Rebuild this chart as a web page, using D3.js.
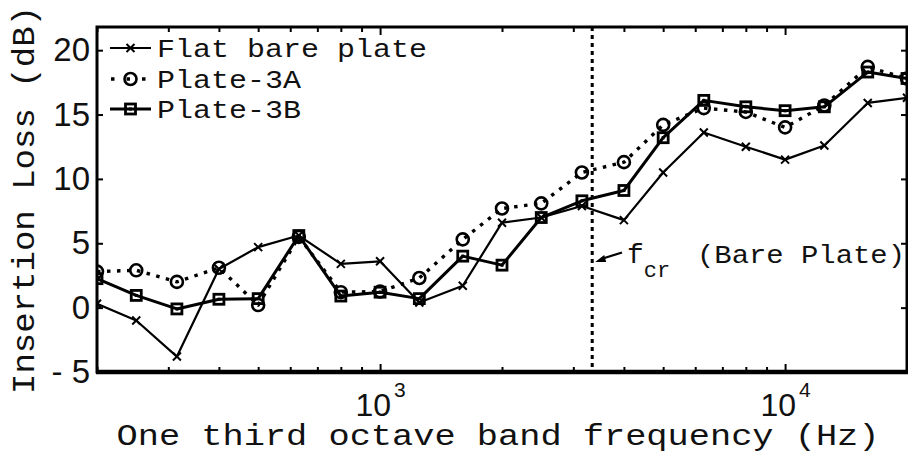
<!DOCTYPE html>
<html>
<head>
<meta charset="utf-8">
<script src="https://cdn.jsdelivr.net/npm/d3@7"></script>
<style>
  html, body { margin: 0; padding: 0; background: #fff; }
  svg { display: block; }
</style>
</head>
<body>
<svg id="chart" width="908" height="454"></svg>
<script>
// One-third octave band centre frequencies (Hz)
const freqs = [200, 250, 315, 400, 500, 630, 800, 1000, 1250, 1600, 2000,
               2500, 3150, 4000, 5000, 6300, 8000, 10000, 12500, 16000, 20000];

// Insertion loss (dB) per band
const flatBare = [0.3, -1.0, -3.8, 3.0, 4.7, 5.6, 3.4, 3.6, 0.4, 1.7, 6.6,
                  7.0, 7.9, 6.8, 10.5, 13.6, 12.5, 11.5, 12.6, 15.9, 16.3];
const plate3A  = [2.8, 2.9, 2.0, 3.1, 0.2, 5.5, 1.2, 1.25, 2.3, 5.3, 7.7,
                  8.1, 10.5, 11.3, 14.2, 15.5, 15.2, 14.0, 15.7, 18.7, 17.8];
const plate3B  = [2.25, 0.95, -0.1, 0.65, 0.7, 5.6, 0.9, 1.2, 0.7, 4.0, 3.3,
                  7.0, 8.3, 9.1, 13.2, 16.1, 15.6, 15.3, 15.6, 18.3, 17.8];

const seriesNames = ["Flat bare plate", "Plate-3A", "Plate-3B"];

// Axis ticks
const yTicks = [-5, 0, 5, 10, 15, 20];
const xMajorTicks = [1000, 10000];
const xMinorTicks = [200, 300, 400, 500, 600, 700, 800, 900,
                     2000, 3000, 4000, 5000, 6000, 7000, 8000, 9000, 20000];

// Critical frequency of the bare plate
const fCritical = 3340;

const monoFont = "'Courier New', 'Nimbus Mono PS', 'Nimbus Mono L', FreeMono, 'Liberation Mono', monospace";
const numFont = "'Liberation Sans', Arial, Helvetica, sans-serif";

const svg = d3.select("#chart");
const L = 97, R = 907, T = 27, B = 372;

const x = d3.scaleLog().domain([200, 20000]).range([L, R]);
const y = d3.scaleLinear().domain([-5, 21.8]).range([B, T]);

svg.append("defs").append("clipPath").attr("id", "plotClip")
  .append("rect").attr("x", L).attr("y", T).attr("width", R - L).attr("height", B - T);

// ---- axes (ticks pointing inward) ----
const sup = d => Math.round(Math.log10(d));

const xBottom = d3.axisBottom(x)
  .tickValues(xMinorTicks.concat(xMajorTicks))
  .tickSizeInner(0).tickSizeOuter(0).tickPadding(21)
  .tickFormat(d => xMajorTicks.includes(d) ? "10" : "");
const gxb = svg.append("g").attr("transform", `translate(0,${B})`).call(xBottom);
gxb.select(".domain").remove();
gxb.selectAll(".tick line")
  .attr("y2", d => xMajorTicks.includes(d) ? -8 : -5)
  .attr("stroke-width", 2);
gxb.selectAll(".tick text")
  .attr("font-family", numFont).attr("font-size", 32).attr("fill", "#111")
  .attr("dy", "0.73em")
  .each(function(d) {
    if (xMajorTicks.includes(d)) {
      d3.select(this).append("tspan")
        .attr("dx", 3).attr("dy", -19).attr("font-size", 21)
        .text(sup(d));
    }
  });

const gxt = svg.append("g").attr("transform", `translate(0,${T})`)
  .call(d3.axisTop(x).tickValues(xMinorTicks.concat(xMajorTicks))
    .tickSizeInner(0).tickSizeOuter(0).tickFormat(""));
gxt.select(".domain").remove();
gxt.selectAll(".tick line")
  .attr("y2", d => xMajorTicks.includes(d) ? 8 : 5)
  .attr("stroke-width", 2);

const gyl = svg.append("g").attr("transform", `translate(${L},0)`)
  .call(d3.axisLeft(y).tickValues(yTicks).tickSizeInner(-6).tickSizeOuter(0)
    .tickPadding(7).tickFormat(d => d < 0 ? "- " + Math.abs(d) : String(d)));
gyl.select(".domain").remove();
gyl.selectAll(".tick line").attr("stroke-width", 2);
gyl.selectAll(".tick text")
  .attr("font-family", numFont).attr("font-size", 33).attr("fill", "#111");

const gyr = svg.append("g").attr("transform", `translate(${R},0)`)
  .call(d3.axisRight(y).tickValues(yTicks).tickSizeInner(-6).tickSizeOuter(0).tickFormat(""));
gyr.select(".domain").remove();
gyr.selectAll(".tick line").attr("stroke-width", 2);

// ---- critical frequency marker ----
svg.append("line")
  .attr("x1", x(fCritical)).attr("x2", x(fCritical))
  .attr("y1", T).attr("y2", B)
  .attr("stroke", "#000").attr("stroke-width", 3)
  .attr("stroke-dasharray", "4 4");

// ---- series ----
const line = d3.line().x(d => x(d[0])).y(d => y(d[1]));
const plot = svg.append("g").attr("clip-path", "url(#plotClip)");

function crossMark(g, s) {
  g.append("path")
    .attr("d", `M${-s},${-s}L${s},${s}M${-s},${s}L${s},${-s}`)
    .attr("fill", "none").attr("stroke", "#000").attr("stroke-width", 2);
}
function circleMark(g, s) {
  g.append("circle").attr("r", s)
    .attr("fill", "none").attr("stroke", "#000").attr("stroke-width", 2.6);
}
function squareMark(g, s) {
  g.append("rect").attr("x", -s).attr("y", -s).attr("width", 2 * s).attr("height", 2 * s)
    .attr("fill", "none").attr("stroke", "#000").attr("stroke-width", 2.8);
  g.append("rect").attr("x", -1.5).attr("y", -1.5).attr("width", 3).attr("height", 3)
    .attr("fill", "#000");
}

const series = [
  { name: seriesNames[0], values: flatBare, width: 2.2, dash: null, mark: crossMark, size: 4 },
  { name: seriesNames[1], values: plate3A, width: 3.4, dash: "3.5 6.5", mark: circleMark, size: 6 },
  { name: seriesNames[2], values: plate3B, width: 3, dash: null, mark: squareMark, size: 5 }
];

series.forEach(s => {
  const pts = freqs.map((f, i) => [f, s.values[i]]);
  plot.append("path").datum(pts).attr("d", line)
    .attr("fill", "none").attr("stroke", "#000")
    .attr("stroke-width", s.width)
    .attr("stroke-dasharray", s.dash)
    .attr("stroke-linejoin", "round");
  pts.forEach(p => {
    const g = plot.append("g").attr("transform", `translate(${x(p[0])},${y(p[1])})`);
    s.mark(g, s.size);
  });
});

// ---- frame ----
svg.append("rect").attr("x", L).attr("y", T).attr("width", R - L).attr("height", B - T)
  .attr("fill", "none").attr("stroke", "#000").attr("stroke-width", 3);
svg.append("line").attr("x1", L - 1).attr("x2", R + 1).attr("y1", B).attr("y2", B)
  .attr("stroke", "#000").attr("stroke-width", 4.5);

// ---- legend ----
const legendRows = [48, 79, 109];
series.forEach((s, i) => {
  const cy = legendRows[i];
  const g = svg.append("g");
  g.append("line").attr("x1", 110).attr("x2", 151).attr("y1", cy).attr("y2", cy)
    .attr("stroke", "#000").attr("stroke-width", s.width)
    .attr("stroke-dasharray", s.dash ? "3.5 12" : null)
    .attr("stroke-dashoffset", s.dash ? -1 : null);
  const m = g.append("g").attr("transform", `translate(130.5,${cy})`);
  s.mark(m, s.size);
  g.append("text").attr("x", 157).attr("y", cy + 9)
    .attr("font-family", monoFont).attr("font-size", 26).attr("fill", "#111")
    .attr("textLength", s.name.length * 18).attr("lengthAdjust", "spacingAndGlyphs")
    .text(s.name);
});

// ---- critical frequency annotation ----
const ann = svg.append("g");
ann.append("line")
  .attr("x1", 622).attr("y1", 252.5).attr("x2", x(fCritical) + 9).attr("y2", 259)
  .attr("stroke", "#000").attr("stroke-width", 2.2);
ann.append("path")
  .attr("d", `M${x(fCritical) + 3},262 L${x(fCritical) + 12},255 L${x(fCritical) + 14},262 Z`)
  .attr("fill", "#000");
const fcr = ann.append("text").attr("x", 627).attr("y", 263)
  .attr("font-family", monoFont).attr("font-size", 28).attr("fill", "#111");
fcr.append("tspan").text("f");
fcr.append("tspan").attr("dy", 14).attr("font-size", 22).text("cr");
ann.append("text").attr("x", 697).attr("y", 263)
  .attr("font-family", monoFont).attr("font-size", 26).attr("fill", "#111")
  .attr("textLength", 208).attr("lengthAdjust", "spacingAndGlyphs")
  .text("(Bare Plate)");

// ---- axis titles ----
svg.append("text")
  .attr("transform", "translate(34,200) rotate(-90)")
  .attr("text-anchor", "middle")
  .attr("font-family", monoFont).attr("font-size", 31).attr("fill", "#111")
  .attr("textLength", 388).attr("lengthAdjust", "spacingAndGlyphs")
  .text("Insertion Loss (dB)");

svg.append("text")
  .attr("x", 498).attr("y", 445)
  .attr("text-anchor", "middle")
  .attr("font-family", monoFont).attr("font-size", 30).attr("fill", "#111")
  .attr("textLength", 763).attr("lengthAdjust", "spacingAndGlyphs")
  .text("One third octave band frequency (Hz)");
</script>
</body>
</html>
